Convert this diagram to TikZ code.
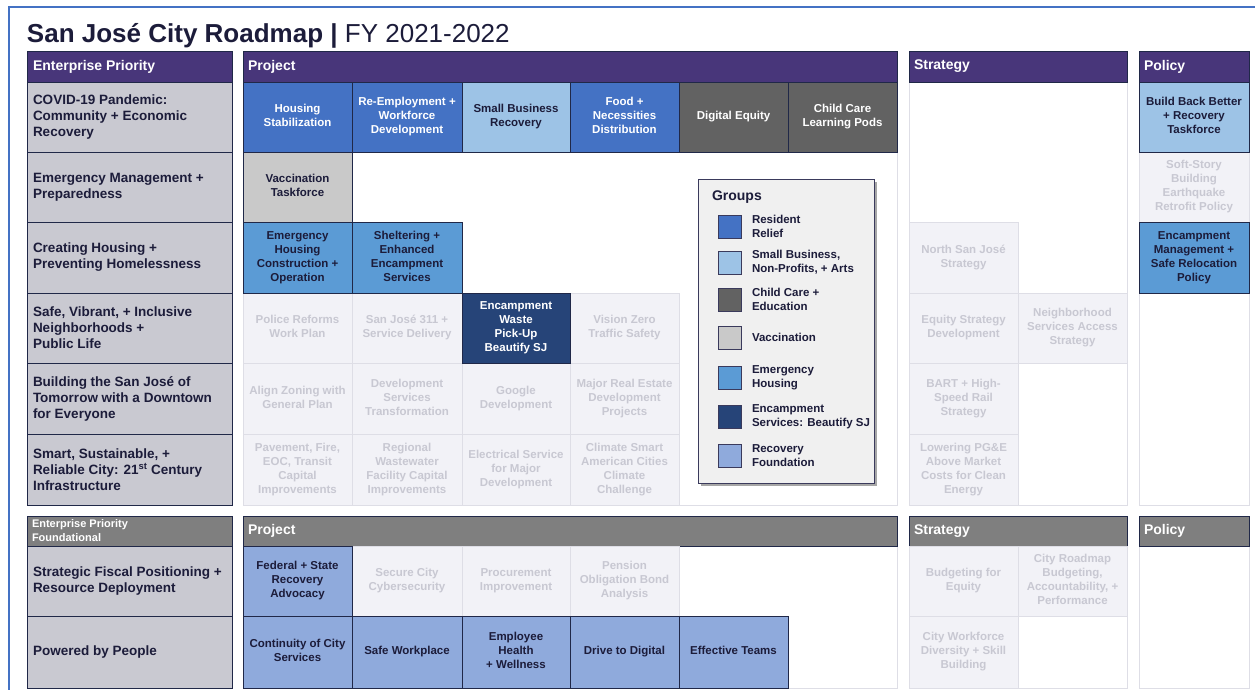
\documentclass[tikz,border=0pt]{standalone}
\usepackage{fontspec}
\setmainfont{Liberation Sans}
\usetikzlibrary{shadows}

% palette
\definecolor{cFrame}{RGB}{68,114,196}
\definecolor{cHead}{RGB}{72,54,122}
\definecolor{cHeadGray}{RGB}{127,127,127}
\definecolor{cLine}{RGB}{32,40,72}
\definecolor{cPrio}{RGB}{201,201,209}
\definecolor{cText}{RGB}{28,28,58}
\definecolor{cRelief}{RGB}{68,114,196}
\definecolor{cSmall}{RGB}{157,195,230}
\definecolor{cChild}{RGB}{98,98,98}
\definecolor{cVacc}{RGB}{201,201,201}
\definecolor{cEmer}{RGB}{91,155,213}
\definecolor{cEncamp}{RGB}{38,68,120}
\definecolor{cRecov}{RGB}{143,170,220}
\definecolor{cFade}{RGB}{242,242,247}
\definecolor{cFadeLine}{RGB}{222,222,230}
\definecolor{cFadeText}{RGB}{200,200,210}
\definecolor{cLegend}{RGB}{240,240,240}
\definecolor{cLegendLine}{RGB}{58,58,92}

\newcommand{\cellfont}{\fontsize{11.5}{14}\selectfont\bfseries}
\newcommand{\priofont}{\fontsize{13.5}{16}\selectfont\bfseries}
\newcommand{\headfont}{\fontsize{14}{16}\selectfont\bfseries}

% rectangular cell from (x1,y1) to (x2,y2), in pixel units; struts keep
% single- and multi-line labels on the same vertical centre
\newcommand{\cellbox}[7]{%
  \node[#6, minimum width={(#4-#2)*1pt}, minimum height={(#5-#3)*1pt}]
    (#1) at ({(#2+#4)/2},{(#3+#5)/2}) {\strut #7\strut};}

\tikzset{
  every node/.style={inner sep=0pt, outer sep=0pt},
  cell/.style={draw=cLine, line width=0.8pt, align=center, font=\cellfont},
  relief/.style={cell, fill=cRelief, text=white},
  smallbiz/.style={cell, fill=cSmall, text=cText},
  childcare/.style={cell, fill=cChild, text=white},
  vacc/.style={cell, fill=cVacc, text=cText},
  emhouse/.style={cell, fill=cEmer, text=cText},
  encamp/.style={cell, fill=cEncamp, text=white},
  recovery/.style={cell, fill=cRecov, text=cText},
  faded/.style={draw=cFadeLine, line width=0.8pt, fill=cFade, text=cFadeText,
                align=center, font=\cellfont},
  column/.style={draw=cFadeLine, line width=0.8pt, fill=white},
  prio/.style={draw=cLine, line width=1pt, fill=cPrio},
  priotext/.style={anchor=west, align=left, text=cText, font=\priofont},
  hdr/.style={draw=cLine, line width=1pt, fill=cHead},
  hdrgray/.style={draw=cLine, line width=1pt, fill=cHeadGray},
  hdrtext/.style={anchor=west, text=white, font=\headfont},
  legendbox/.style={draw=cLegendLine, line width=0.9pt, fill=cLegend,
    drop shadow={shadow xshift=3pt, shadow yshift=-3pt, fill=black, opacity=0.35}},
  swatch/.style={draw=cLegendLine, line width=0.9pt},
  legtext/.style={anchor=west, align=left, text=cText, font=\cellfont},
  frame/.style={draw=cFrame, line width=1.6pt},
}

\begin{document}
\begin{tikzpicture}[x=1pt, y=-1pt]
\useasboundingbox (0,0) rectangle (1255,689);

% page frame
\draw[frame] (9,690) |- (1256,7);

% title
\node[anchor=base west, text=cText, font=\fontsize{26}{30}\selectfont] (title) at (27,42)
  {\textbf{San José City Roadmap |} FY 2021-2022};

% ---------- column outlines ----------
\cellbox{colProj}{243}{82}{897}{505}{column}{}
\cellbox{colStrat}{909}{82}{1127}{505}{column}{}
\cellbox{colPol}{1139}{82}{1249}{505}{column}{}
\cellbox{colProjB}{243}{546}{897}{688}{column}{}
\cellbox{colStratB}{909}{546}{1127}{688}{column}{}
\cellbox{colPolB}{1139}{546}{1249}{688}{column}{}

% ---------- headers ----------
\cellbox{hEP}{27}{51}{232}{82}{hdr}{}
\node[hdrtext] (hEPt) at ([xshift=6pt]hEP.west) {Enterprise Priority};
\cellbox{hProj}{243}{51}{897}{82}{hdr}{}
\node[hdrtext] (hProjt) at ([xshift=5pt]hProj.west) {Project};
\cellbox{hStrat}{909}{51}{1127}{82}{hdr}{}
\node[hdrtext] (hStratt) at ([xshift=5pt]hStrat.west) {Strategy};
\cellbox{hPol}{1139}{51}{1249}{82}{hdr}{}
\node[hdrtext] (hPolt) at ([xshift=5pt]hPol.west) {Policy};

\cellbox{hEPF}{27}{516}{232}{546}{hdrgray}{}
\node[anchor=west, align=left, text=white, font=\fontsize{11}{14}\selectfont\bfseries]
  (hEPFt) at ([xshift=5pt]hEPF.west) {Enterprise Priority\\Foundational};
\cellbox{hProjB}{243}{516}{897}{546}{hdrgray}{}
\node[hdrtext] (hProjBt) at ([xshift=5pt]hProjB.west) {Project};
\cellbox{hStratB}{909}{516}{1127}{546}{hdrgray}{}
\node[hdrtext] (hStratBt) at ([xshift=5pt]hStratB.west) {Strategy};
\cellbox{hPolB}{1139}{516}{1249}{546}{hdrgray}{}
\node[hdrtext] (hPolBt) at ([xshift=5pt]hPolB.west) {Policy};

% ---------- enterprise priorities ----------
\cellbox{e1}{27}{82}{232}{152}{prio}{}
\node[priotext] (e1t) at ([xshift=6pt]e1.west) {COVID-19 Pandemic:\\Community + Economic\\Recovery};
\cellbox{e2}{27}{152}{232}{222}{prio}{}
\node[priotext] (e2t) at ([xshift=6pt]e2.west) {Emergency Management +\\Preparedness};
\cellbox{e3}{27}{222}{232}{293}{prio}{}
\node[priotext] (e3t) at ([xshift=6pt]e3.west) {Creating Housing +\\Preventing Homelessness};
\cellbox{e4}{27}{293}{232}{363}{prio}{}
\node[priotext] (e4t) at ([xshift=6pt]e4.west) {Safe, Vibrant, + Inclusive\\Neighborhoods +\\Public Life};
\cellbox{e5}{27}{363}{232}{434}{prio}{}
\node[priotext] (e5t) at ([xshift=6pt]e5.west) {Building the San José of\\Tomorrow with a Downtown\\for Everyone};
\cellbox{e6}{27}{434}{232}{505}{prio}{}
\node[priotext] (e6t) at ([xshift=6pt]e6.west) {Smart, Sustainable, +\\Reliable City: 21\textsuperscript{st} Century\\Infrastructure};
\cellbox{e7}{27}{546}{232}{616}{prio}{}
\node[priotext] (e7t) at ([xshift=6pt]e7.west) {Strategic Fiscal Positioning +\\Resource Deployment};
\cellbox{e8}{27}{616}{232}{688}{prio}{}
\node[priotext] (e8t) at ([xshift=6pt]e8.west) {Powered by People};

% ---------- faded (not yet active) items ----------
\cellbox{polSoft}{1139}{152}{1249}{222}{faded}{Soft-Story\\Building\\Earthquake\\Retrofit Policy}
\cellbox{sNorth}{909}{222}{1018}{293}{faded}{North San José\\Strategy}
\cellbox{pPolice}{243}{293}{352}{363}{faded}{Police Reforms\\Work Plan}
\cellbox{p311}{352}{293}{462}{363}{faded}{San José 311 +\\Service Delivery}
\cellbox{pVision}{570}{293}{679}{363}{faded}{Vision Zero\\Traffic Safety}
\cellbox{sEquity}{909}{293}{1018}{363}{faded}{Equity Strategy\\Development}
\cellbox{sNeighbor}{1018}{293}{1127}{363}{faded}{Neighborhood\\Services Access\\Strategy}
\cellbox{pZoning}{243}{363}{352}{434}{faded}{Align Zoning with\\General Plan}
\cellbox{pDevSvc}{352}{363}{462}{434}{faded}{Development\\Services\\Transformation}
\cellbox{pGoogle}{462}{363}{570}{434}{faded}{Google\\Development}
\cellbox{pRealEstate}{570}{363}{679}{434}{faded}{Major Real Estate\\Development\\Projects}
\cellbox{sBart}{909}{363}{1018}{434}{faded}{BART + High-\\Speed Rail\\Strategy}
\cellbox{pPavement}{243}{434}{352}{505}{faded}{Pavement, Fire,\\EOC, Transit\\Capital\\Improvements}
\cellbox{pWastewater}{352}{434}{462}{505}{faded}{Regional\\Wastewater\\Facility Capital\\Improvements}
\cellbox{pElectric}{462}{434}{570}{505}{faded}{Electrical Service\\for Major\\Development}
\cellbox{pClimate}{570}{434}{679}{505}{faded}{Climate Smart\\American Cities\\Climate\\Challenge}
\cellbox{sPGE}{909}{434}{1018}{505}{faded}{Lowering PG\&E\\Above Market\\Costs for Clean\\Energy}
\cellbox{fCyber}{352}{546}{462}{616}{faded}{Secure City\\Cybersecurity}
\cellbox{fProcure}{462}{546}{570}{616}{faded}{Procurement\\Improvement}
\cellbox{fPension}{570}{546}{679}{616}{faded}{Pension\\Obligation Bond\\Analysis}
\cellbox{sBudget}{909}{546}{1018}{616}{faded}{Budgeting for\\Equity}
\cellbox{sRoadmap}{1018}{546}{1127}{616}{faded}{City Roadmap\\Budgeting,\\Accountability, +\\Performance}
\cellbox{sWorkforce}{909}{616}{1018}{688}{faded}{City Workforce\\Diversity + Skill\\Building}

% ---------- active projects and policies ----------
\cellbox{pHousing}{243}{82}{352}{152}{relief}{Housing\\Stabilization}
\cellbox{pReemploy}{352}{82}{462}{152}{relief}{Re-Employment +\\Workforce\\Development}
\cellbox{pSmallBiz}{462}{82}{570}{152}{smallbiz}{Small Business\\Recovery}
\cellbox{pFood}{570}{82}{679}{152}{relief}{Food +\\Necessities\\Distribution}
\cellbox{pDigital}{679}{82}{788}{152}{childcare}{Digital Equity}
\cellbox{pChildCare}{788}{82}{897}{152}{childcare}{Child Care\\Learning Pods}
\cellbox{polBuild}{1139}{82}{1249}{152}{smallbiz}{Build Back Better\\+ Recovery\\Taskforce}
\cellbox{pVacc}{243}{152}{352}{222}{vacc}{Vaccination\\Taskforce}
\cellbox{pEmHousing}{243}{222}{352}{293}{emhouse}{Emergency\\Housing\\Construction +\\Operation}
\cellbox{pShelter}{352}{222}{462}{293}{emhouse}{Sheltering +\\Enhanced\\Encampment\\Services}
\cellbox{polEncamp}{1139}{222}{1249}{293}{emhouse}{Encampment\\Management +\\Safe Relocation\\Policy}
\cellbox{pWaste}{462}{293}{570}{363}{encamp}{Encampment\\Waste\\Pick-Up\\Beautify SJ}
\cellbox{fFederal}{243}{546}{352}{616}{recovery}{Federal + State\\Recovery\\Advocacy}
\cellbox{fContinuity}{243}{616}{352}{688}{recovery}{Continuity of City\\Services}
\cellbox{fSafe}{352}{616}{462}{688}{recovery}{Safe Workplace}
\cellbox{fHealth}{462}{616}{570}{688}{recovery}{Employee\\Health\\+ Wellness}
\cellbox{fDigital}{570}{616}{679}{688}{recovery}{Drive to Digital}
\cellbox{fTeams}{679}{616}{788}{688}{recovery}{Effective Teams}

% ---------- legend ----------
\cellbox{legend}{698}{179}{874}{483}{legendbox}{}
\node[anchor=base west, text=cText, font=\headfont] (lgTitle) at (712,200) {Groups};
\cellbox{sw1}{718}{215}{741}{238}{swatch, fill=cRelief}{}
\node[legtext] (lt1) at ([xshift=11pt]sw1.east) {Resident\\Relief};
\cellbox{sw2}{718}{251}{741}{274}{swatch, fill=cSmall}{}
\node[legtext] (lt2) at ([xshift=11pt]sw2.east) {Small Business,\\Non-Profits, + Arts};
\cellbox{sw3}{718}{288}{741}{311}{swatch, fill=cChild}{}
\node[legtext] (lt3) at ([xshift=11pt]sw3.east) {Child Care +\\Education};
\cellbox{sw4}{718}{326}{741}{349}{swatch, fill=cVacc}{}
\node[legtext] (lt4) at ([xshift=11pt]sw4.east) {Vaccination};
\cellbox{sw5}{718}{366}{741}{389}{swatch, fill=cEmer}{}
\node[legtext] (lt5) at ([xshift=11pt]sw5.east) {Emergency\\Housing};
\cellbox{sw6}{718}{405}{741}{428}{swatch, fill=cEncamp}{}
\node[legtext] (lt6) at ([xshift=11pt]sw6.east) {Encampment\\Services: Beautify SJ};
\cellbox{sw7}{718}{444}{741}{467}{swatch, fill=cRecov}{}
\node[legtext] (lt7) at ([xshift=11pt]sw7.east) {Recovery\\Foundation};

\end{tikzpicture}
\end{document}
